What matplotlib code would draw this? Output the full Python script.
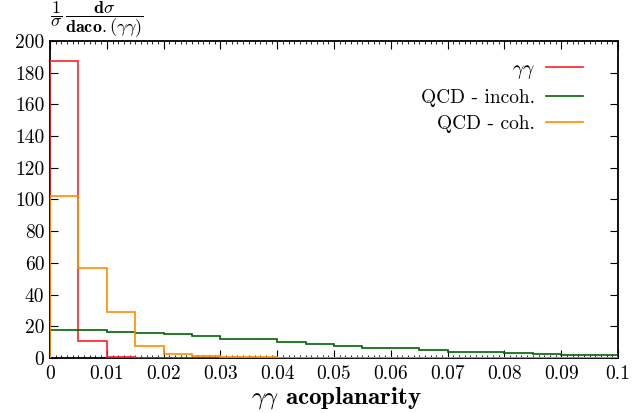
import matplotlib
matplotlib.use("Agg")
import matplotlib.pyplot as plt
import numpy as np
from matplotlib.ticker import MultipleLocator

plt.rcParams['font.family'] = 'serif'
plt.rcParams['font.serif'] = ['cmr10', 'DejaVu Serif']
plt.rcParams['mathtext.fontset'] = 'cm'
plt.rcParams['axes.formatter.use_mathtext'] = True
plt.rcParams['axes.unicode_minus'] = False

# bin edges of the acoplanarity histogram
edges = np.linspace(0.0, 0.1, 21)

# normalised distributions
gamgam = [187.5, 10.5, 0.6, 0.2, 0, 0, 0, 0, 0, 0,
          0, 0, 0, 0, 0, 0, 0, 0, 0, 0]
qcd_incoh = [17.9, 17.5, 16.6, 16.0, 15.1, 13.7, 12.0, 12.0, 10.1, 9.0,
             7.6, 6.3, 6.3, 4.8, 4.0, 3.6, 3.2, 2.7, 2.1, 2.1]
qcd_coh = [102.0, 57.0, 29.0, 7.8, 2.7, 1.5, 0.8, 0.4, 0.3, 0.3,
           0.2, 0.2, 0.2, 0.1, 0.1, 0.1, 0.1, 0.1, 0.1, 0.1]

xticks = [0, 0.01, 0.02, 0.03, 0.04, 0.05, 0.06, 0.07, 0.08, 0.09, 0.1]
xticklabels = ["0", "0.01", "0.02", "0.03", "0.04", "0.05", "0.06", "0.07", "0.08", "0.09", "0.1"]
yticks = [0, 20, 40, 60, 80, 100, 120, 140, 160, 180, 200]

fig = plt.figure(figsize=(6.38, 4.13), dpi=100)
ax = fig.add_axes([0.0784, 0.1332, 0.8903, 0.7675])

ax.stairs(gamgam, edges, color="#ff2020", lw=1.2, label=r"$\gamma\gamma$", zorder=3)
ax.stairs(qcd_incoh, edges, color="#006400", lw=1.2, label="QCD - incoh.", zorder=3)
ax.stairs(qcd_coh, edges, color="#ff8c00", lw=1.2, label="QCD - coh.", zorder=3)

ax.set_xlim(0, 0.1)
ax.set_ylim(0, 200)
ax.set_xticks(xticks)
ax.set_xticklabels(xticklabels)
ax.set_yticks(yticks)
ax.set_yticklabels([str(v) for v in yticks])
ax.xaxis.set_minor_locator(MultipleLocator(0.001))

ax.tick_params(which="both", direction="in", top=True, right=True, labelsize=14)
ax.tick_params(which="major", length=6, width=0.8)
ax.tick_params(which="minor", length=2.5, width=0.6)
ax.tick_params(axis="x", pad=5)
ax.tick_params(axis="y", pad=4)
for s in ax.spines.values():
    s.set_linewidth(1.3)
    s.set_zorder(2)

ax.set_xlabel(r"$\gamma\gamma$ acoplanarity", fontsize=18, fontfamily="cmb10")
ax.xaxis.set_label_coords(0.505, -0.085)
fig.text(0.078, 0.903,
         r"$\dfrac{1}{\sigma}\,\dfrac{\mathbf{d}\sigma}{\mathbf{daco.}(\gamma\gamma)}$",
         fontsize=13, ha="left", va="bottom")

leg = ax.legend(loc="upper right", frameon=False, markerfirst=False, fontsize=14,
                handlelength=1.9, handletextpad=0.55, labelspacing=0.4,
                borderpad=0, borderaxespad=0,
                bbox_to_anchor=(0.938, 0.94))

fig.savefig("out.png", dpi=100)
